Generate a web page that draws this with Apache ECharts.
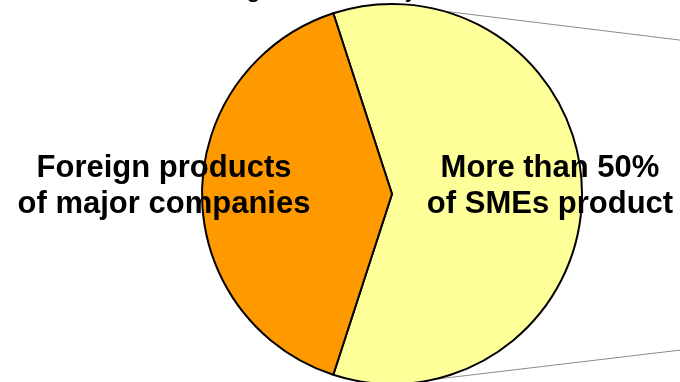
<!DOCTYPE html>
<html>
<head>
<meta charset="utf-8">
<script src="https://cdn.jsdelivr.net/npm/echarts@6/dist/echarts.min.js"></script>
<style>
  html, body { margin: 0; padding: 0; background: #fff; }
  #chart { width: 680px; height: 382px; }
</style>
</head>
<body>
<div id="chart"></div>
<script>
// Share of sourcing, two segments
const categories = ['More than 50%\nof SMEs product', 'Foreign products\nof major companies'];
const shares = [60, 40];
const colors = ['#FFFF99', '#FF9900'];
const titleText = 'Sourcing from industry';

// Pie geometry
const cx = 392, cy = 194, r = 190;
const startAngle = 108;

// Connector lines toward the secondary breakdown (off to the right)
function onRim(deg) {
  // deg measured clockwise from 12 o'clock
  const a = deg * Math.PI / 180;
  return [cx + r * Math.sin(a), cy - r * Math.cos(a)];
}
const topStart = onRim(15.7);
const botStart = onRim(167.5);
const farX = 800;
const topEnd = [farX, topStart[1] + 0.1225 * (farX - topStart[0])];
const botEnd = [farX, botStart[1] - 0.119 * (farX - botStart[0])];

// Label placement relative to the pie centre
const labelOffsets = [[158, -8], [-228, -8]];

const chart = echarts.init(document.getElementById('chart'), null, { renderer: 'canvas' });
chart.setOption({
  animation: false,
  backgroundColor: '#ffffff',
  title: {
    text: titleText,
    left: 153,
    top: -28,
    textStyle: { fontFamily: 'Liberation Sans', fontWeight: 'normal', fontSize: 26, color: '#000' }
  },
  graphic: [
    { type: 'line', z: 0, shape: { x1: topStart[0], y1: topStart[1], x2: topEnd[0], y2: topEnd[1] },
      style: { stroke: '#8c8c8c', lineWidth: 1 } },
    { type: 'line', z: 0, shape: { x1: botStart[0], y1: botStart[1], x2: botEnd[0], y2: botEnd[1] },
      style: { stroke: '#8c8c8c', lineWidth: 1 } }
  ],
  series: [{
    type: 'pie',
    center: [cx, cy],
    radius: [0, r],
    startAngle: startAngle,
    clockwise: true,
    z: 2,
    emphasis: { disabled: true },
    data: categories.map((name, i) => ({
      name: name,
      value: shares[i],
      itemStyle: { color: colors[i] }
    })),
    itemStyle: { borderColor: '#000', borderWidth: 2 },
    label: {
      show: true,
      position: 'inside',
      formatter: '{b}',
      fontFamily: 'Liberation Sans',
      fontWeight: 'bold',
      fontSize: 31,
      lineHeight: 36,
      color: '#000',
      align: 'center'
    },
    labelLine: { show: false },
    labelLayout: function (params) {
      const off = labelOffsets[params.dataIndex];
      return { x: cx + off[0], y: cy + off[1], align: 'center', verticalAlign: 'middle' };
    }
  }]
});
</script>
</body>
</html>
